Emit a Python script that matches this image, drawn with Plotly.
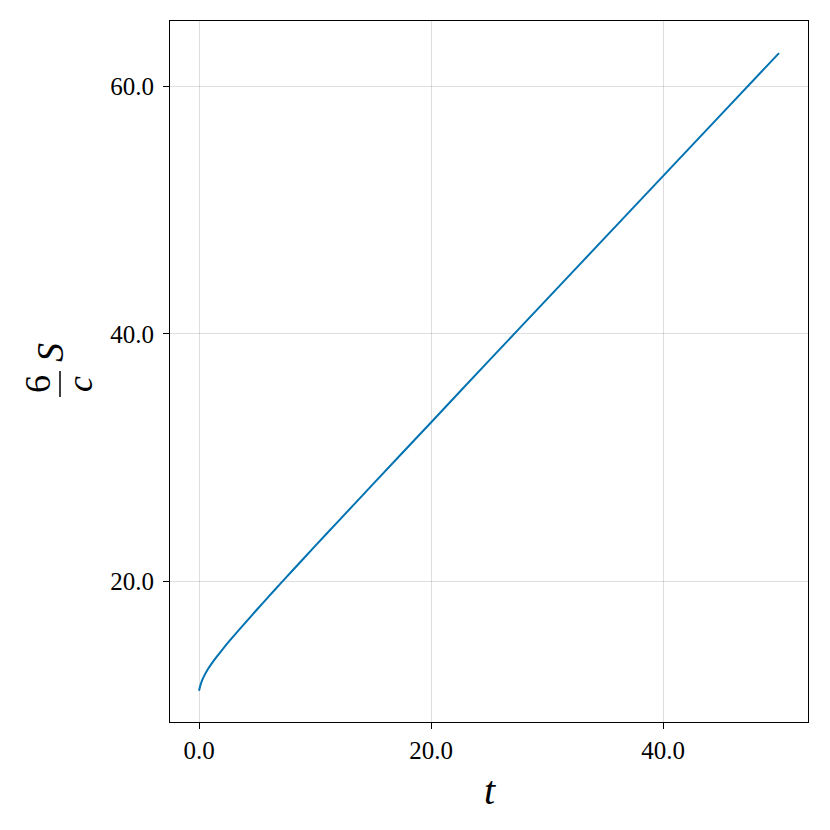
import plotly.graph_objects as go

# data
t_values = [0, 0.1, 0.25, 0.5, 0.75, 1, 1.5, 2, 2.5, 3, 4, 5, 6, 7, 8, 10, 12, 15, 20, 25, 30, 35, 40, 45, 50]
s_values = [11.12, 11.50, 11.93, 12.43, 12.85, 13.20, 13.84, 14.44, 15.02, 15.57, 16.64, 17.70, 18.74,
            19.77, 20.79, 22.82, 24.83, 27.84, 32.83, 37.83, 42.80, 47.78, 52.75, 57.73, 62.70]
x_ticks = [0, 20, 40]
y_ticks = [20, 40, 60]

W, H = 830, 830
OFF = 8  # page body margin in the browser
# target plot box in screen pixels: left 170, right 808, top 21, bottom 722
L, T = 170 - OFF, 21 - OFF
R = W - (808 - OFF)
B = H - (722 - OFF)
PW, PH = W - L - R, H - T - B
FONT = "Liberation Serif"


def px(x):
    # screen x -> paper
    return (x - OFF - L) / PW


def py(y):
    # screen y -> paper
    return (H - B - (y - OFF)) / PH


fig = go.Figure()
fig.add_trace(go.Scatter(x=t_values, y=s_values, mode="lines",
                         line=dict(color="#0072B2", width=2, shape="spline", smoothing=0.6),
                         showlegend=False, hoverinfo="skip"))

axis_common = dict(showline=True, linecolor="black", linewidth=1, mirror=True,
                   ticks="outside", ticklen=6, tickcolor="black", tickwidth=1,
                   showgrid=True, gridcolor="rgba(0,0,0,0.13)", gridwidth=1,
                   zeroline=False, tickformat=".1f",
                   tickfont=dict(family=FONT, size=25, color="black"))

fig.update_layout(
    width=W, height=H,
    margin=dict(l=L, r=R, t=T, b=B, pad=0),
    paper_bgcolor="white", plot_bgcolor="white",
    xaxis=dict(range=[-2.5, 52.5], tickvals=x_ticks, **axis_common),
    yaxis=dict(range=[8.6, 65.3], tickvals=y_ticks, ticklabelstandoff=4, **axis_common),
)

# x-axis label
fig.add_annotation(x=px(490), y=py(790), xref="paper", yref="paper", text="<i>t</i>",
                   showarrow=False, font=dict(family=FONT, size=40, color="black"),
                   xanchor="center", yanchor="middle")

# y-axis label: (6 / c) S rotated
fig.add_annotation(x=px(38), y=py(384), xref="paper", yref="paper", text="6",
                   textangle=-90, showarrow=False, font=dict(family=FONT, size=36, color="black"),
                   xanchor="center", yanchor="middle")
fig.add_annotation(x=px(80), y=py(384), xref="paper", yref="paper", text="<i>c</i>",
                   textangle=-90, showarrow=False, font=dict(family=FONT, size=36, color="black"),
                   xanchor="center", yanchor="middle")
fig.add_annotation(x=px(50), y=py(353), xref="paper", yref="paper", text="<i>S</i>",
                   textangle=-90, showarrow=False, font=dict(family=FONT, size=38, color="black"),
                   xanchor="center", yanchor="middle")
fig.add_shape(type="line", xref="paper", yref="paper",
              x0=px(60), x1=px(60), y0=py(371), y1=py(397),
              line=dict(color="black", width=1.5))

fig.write_html("out.html")
